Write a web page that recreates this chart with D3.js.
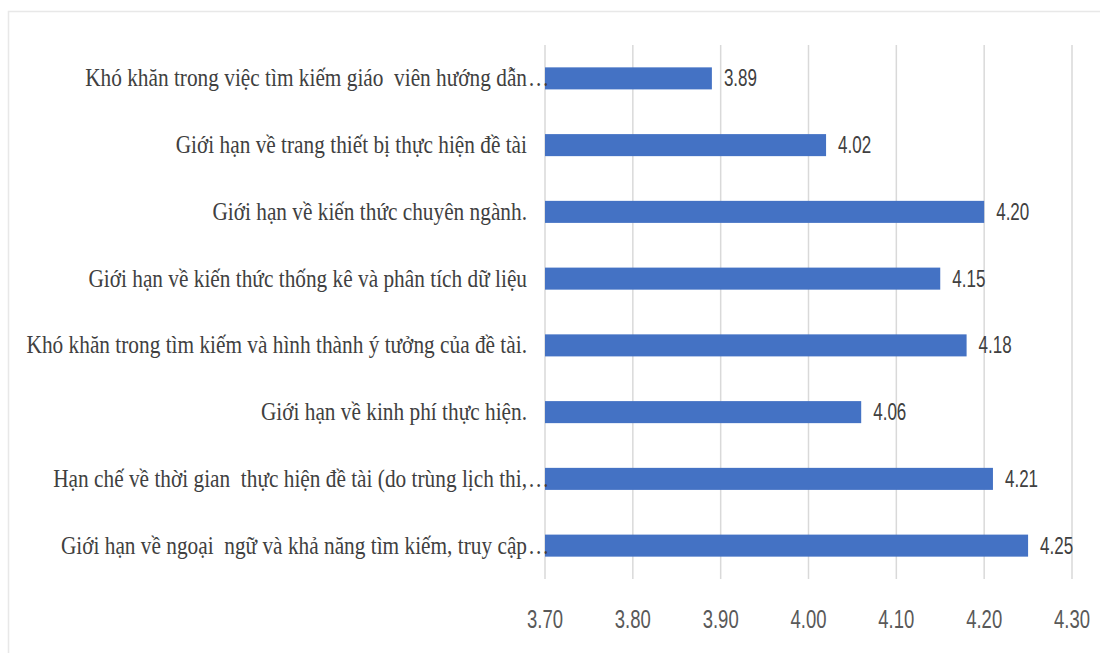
<!DOCTYPE html>
<html>
<head>
<meta charset="utf-8">
<script src="https://cdn.jsdelivr.net/npm/d3@7"></script>
<style>
  body { margin: 0; background: #fff; }
  text { white-space: pre; }
</style>
</head>
<body>
<div id="chart"></div>
<script>
// categories top to bottom
const categories = [
    'Khó khăn trong việc tìm kiếm giáo  viên hướng dẫn…',
    'Giới hạn về trang thiết bị thực hiện đề tài',
    'Giới hạn về kiến thức chuyên ngành.',
    'Giới hạn về kiến thức thống kê và phân tích dữ liệu',
    'Khó khăn trong tìm kiếm và hình thành ý tưởng của đề tài.',
    'Giới hạn về kinh phí thực hiện.',
    'Hạn chế về thời gian  thực hiện đề tài (do trùng lịch thi,…',
    'Giới hạn về ngoại  ngữ và khả năng tìm kiếm, truy cập…'
];
const values = [3.89, 4.02, 4.20, 4.15, 4.18, 4.06, 4.21, 4.25];
const tickValues = [3.70, 3.80, 3.90, 4.00, 4.10, 4.20, 4.30];

let width = 1100;
let height = 653;
let margin = { top: 45, right: 28, bottom: 74, left: 545 };

let svg = d3.select('#chart')
    .append('svg')
    .attr('width', width)
    .attr('height', height);

// light frame of the chart area (runs off the right and bottom edge)
svg.append('rect')
    .attr('x', 8.5).attr('y', 11.5)
    .attr('width', width + 20).attr('height', height + 20)
    .attr('fill', '#fff')
    .attr('stroke', '#e8e8e8')
    .attr('stroke-width', 1.5);

let x = d3.scaleLinear()
    .domain([3.7, 4.3])
    .range([margin.left, width - margin.right]);

let y = d3.scaleBand()
    .domain(categories)
    .range([margin.top, height - margin.bottom])
    .paddingInner(0.67)
    .paddingOuter(0.335);

// gridlines
svg.append('g')
    .selectAll('line')
    .data(tickValues)
    .join('line')
    .attr('x1', d => x(d)).attr('x2', d => x(d))
    .attr('y1', margin.top).attr('y2', height - margin.bottom)
    .attr('stroke', '#d9d9d9')
    .attr('stroke-width', 1.5);

// tick labels (text squeezed sideways like the source image)
let sx = 0.74;
svg.append('g')
    .selectAll('text')
    .data(tickValues)
    .join('text')
    .attr('transform', d => `translate(${x(d)},628) scale(${sx},1)`)
    .attr('text-anchor', 'middle')
    .attr('font-family', 'Liberation Sans, Arial, sans-serif')
    .attr('font-size', 25)
    .attr('fill', '#595959')
    .text(d => d3.format('.2f')(d));

// bars
svg.append('g')
    .selectAll('rect')
    .data(values)
    .join('rect')
    .attr('x', x(3.7))
    .attr('y', (d, i) => y(categories[i]))
    .attr('width', d => x(d) - x(3.7))
    .attr('height', y.bandwidth())
    .attr('fill', '#4472c4');

// value labels
svg.append('g')
    .selectAll('text')
    .data(values)
    .join('text')
    .attr('transform', (d, i) => `translate(${x(d) + 12},${y(categories[i]) + y.bandwidth() / 2 + 8}) scale(${sx},1)`)
    .attr('font-family', 'Liberation Sans, Arial, sans-serif')
    .attr('font-size', 23)
    .attr('fill', '#404040')
    .text(d => d3.format('.2f')(d));

// category labels, serif; truncated ones carry the ellipsis past the label edge
let labelEnd = 527;
let serifSx = 0.82;
let labels = svg.append('g');
categories.forEach(c => {
    let cy = y(c) + y.bandwidth() / 2 + 8;
    let truncated = c.endsWith('…');
    let main = truncated ? c.slice(0, -1) : c;
    labels.append('text')
        .attr('transform', `translate(${labelEnd},${cy}) scale(${serifSx},1)`)
        .attr('text-anchor', 'end')
        .attr('font-family', 'Liberation Serif, Times New Roman, serif')
        .attr('font-size', 26)
        .attr('fill', '#404040')
        .text(main);
    if (truncated) {
        labels.append('text')
            .attr('transform', `translate(${labelEnd + 1},${cy}) scale(${serifSx},1)`)
            .attr('font-family', 'Liberation Serif, Times New Roman, serif')
            .attr('font-size', 26)
            .attr('fill', '#404040')
            .text('…');
    }
});
</script>
</body>
</html>
